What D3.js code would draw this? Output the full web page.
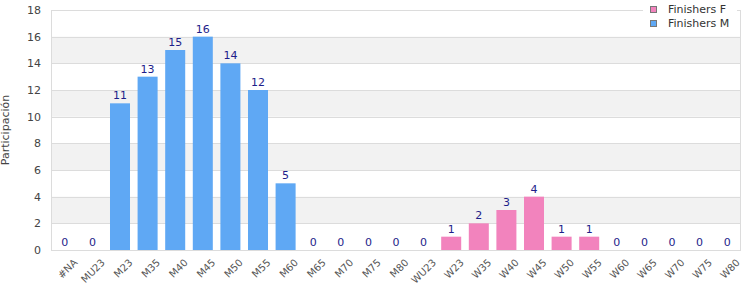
<!DOCTYPE html>
<html>
<head>
<meta charset="utf-8">
<script src="https://cdn.jsdelivr.net/npm/d3@7"></script>
<style>
    body { margin: 0; background: #fff; }
    text { font-family: "DejaVu Sans", sans-serif; }
</style>
</head>
<body>
<script>
const categories = ["#NA", "MU23", "M23", "M35", "M40", "M45", "M50", "M55", "M60", "M65", "M70", "M75", "M80",
    "WU23", "W23", "W35", "W40", "W45", "W50", "W55", "W60", "W65", "W70", "W75", "W80"]
const finishersF = [0, 0, 0, 0, 0, 0, 0, 0, 0, 0, 0, 0, 0, 0, 1, 2, 3, 4, 1, 1, 0, 0, 0, 0, 0]
const finishersM = [0, 0, 11, 13, 15, 16, 14, 12, 5, 0, 0, 0, 0, 0, 0, 0, 0, 0, 0, 0, 0, 0, 0, 0, 0]
const yTicks = [0, 2, 4, 6, 8, 10, 12, 14, 16, 18]
const seriesNames = ["Finishers F", "Finishers M"]
const seriesColors = ["#f283bd", "#5fa8f4"]

const svgWidth = 750
const svgHeight = 300
const margin = { top: 10, right: 9, bottom: 50, left: 51 }
const chartWidth = svgWidth - margin.left - margin.right
const chartHeight = svgHeight - margin.top - margin.bottom

const svg = d3.select("body").append("svg")
    .attr("width", svgWidth)
    .attr("height", svgHeight)

const chartG = svg.append("g")
    .attr("transform", `translate(${margin.left}, ${margin.top})`)

const x = d3.scaleBand()
    .domain(categories)
    .range([0, chartWidth])
    .paddingInner(0.275)
    .paddingOuter(0.1375)

const y = d3.scaleLinear()
    .domain([0, 18])
    .range([chartHeight, 0])

// alternating bands
chartG.selectAll("rect.band")
    .data(yTicks.slice(0, -1).filter((d, i) => i % 2 === 1))
    .enter()
    .append("rect")
    .attr("class", "band")
    .attr("x", 0)
    .attr("width", chartWidth)
    .attr("y", d => y(d + 2))
    .attr("height", d => y(d) - y(d + 2))
    .attr("fill", "#f2f2f2")

chartG.selectAll("line.grid")
    .data(yTicks)
    .enter()
    .append("line")
    .attr("class", "grid")
    .attr("x1", 0)
    .attr("x2", chartWidth)
    .attr("y1", d => Math.round(y(d)) + 0.5)
    .attr("y2", d => Math.round(y(d)) + 0.5)
    .attr("stroke", "#dcdcdc")

chartG.append("line")
    .attr("x1", 0.5).attr("x2", 0.5)
    .attr("y1", 0).attr("y2", chartHeight)
    .attr("stroke", "#dcdcdc")
chartG.append("line")
    .attr("x1", chartWidth - 0.5).attr("x2", chartWidth - 0.5)
    .attr("y1", 0).attr("y2", chartHeight)
    .attr("stroke", "#dcdcdc")

const rows = categories.map((c, i) => ({ cat: c, f: finishersF[i], m: finishersM[i] }))
const stack = d3.stack().keys(["f", "m"])(rows)

chartG.selectAll("g.series")
    .data(stack)
    .enter()
    .append("g")
    .attr("fill", (d, i) => seriesColors[i])
    .selectAll("rect")
    .data(d => d)
    .enter()
    .append("rect")
    .attr("x", d => x(d.data.cat))
    .attr("width", x.bandwidth())
    .attr("y", d => y(d[1]))
    .attr("height", d => y(d[0]) - y(d[1]))

chartG.selectAll("text.val")
    .data(rows)
    .enter()
    .append("text")
    .attr("class", "val")
    .attr("x", d => x(d.cat) + x.bandwidth() / 2)
    .attr("y", d => y(d.f + d.m) - 4)
    .attr("text-anchor", "middle")
    .attr("font-size", 11)
    .attr("fill", "#1e1e8a")
    .text(d => d.f + d.m)

const yAxis = d3.axisLeft(y).tickValues(yTicks).tickSize(0).tickPadding(10)
const yG = chartG.append("g").call(yAxis)
yG.select(".domain").remove()
yG.selectAll("text").attr("font-size", 11).attr("fill", "#444").attr("font-family", "DejaVu Sans, sans-serif")

const xAxis = d3.axisBottom(x).tickSize(0).tickPadding(6)
const xG = chartG.append("g")
    .attr("transform", `translate(0, ${chartHeight})`)
    .call(xAxis)
xG.select(".domain").remove()
xG.selectAll("text")
    .attr("font-size", 10)
    .attr("fill", "#555")
    .attr("font-family", "DejaVu Sans, sans-serif")
    .attr("text-anchor", "end")
    .attr("dy", "0.7em")
    .attr("transform", "translate(4, 4) rotate(-45)")

svg.append("text")
    .attr("transform", `translate(9, ${margin.top + chartHeight / 2}) rotate(-90)`)
    .attr("text-anchor", "middle")
    .attr("font-size", 11)
    .attr("fill", "#444")
    .text("Participación")

// legend
svg.append("rect")
    .attr("x", 643).attr("y", 0)
    .attr("width", 94).attr("height", 30)
    .attr("fill", "#fff")
const items = svg.selectAll("g.leg")
    .data(seriesNames)
    .enter()
    .append("g")
    .attr("transform", (d, i) => `translate(650, ${6 + i * 14})`)
items.append("rect")
    .attr("x", 0.5).attr("y", 0.5)
    .attr("width", 6).attr("height", 6)
    .attr("fill", (d, i) => seriesColors[i])
    .attr("stroke", "#777")
items.append("text")
    .attr("x", 18)
    .attr("y", 7)
    .attr("font-size", 11)
    .attr("fill", "#333")
    .text(d => d)
</script>
</body>
</html>
